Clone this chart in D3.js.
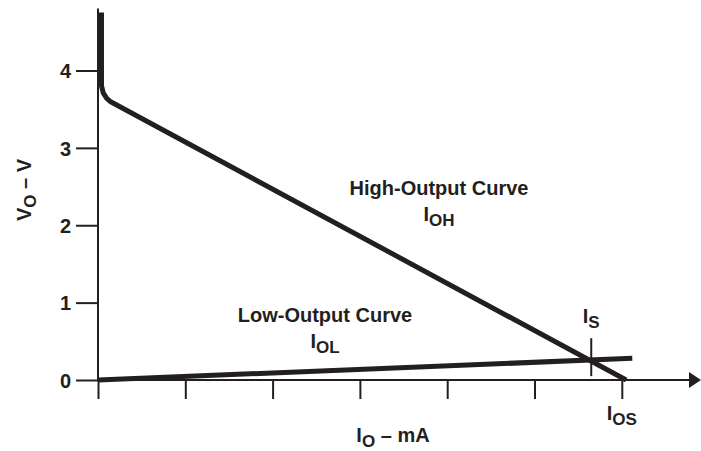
<!DOCTYPE html>
<html>
<head>
<meta charset="utf-8">
<script src="https://cdn.jsdelivr.net/npm/d3@7"></script>
<style>
  body { margin: 0; background: #fff; }
  text { font-family: "Liberation Sans", Arial, sans-serif; font-weight: bold; fill: #231f20; }
</style>
</head>
<body>
<div id="chart-area"></div>
<script>
// values (x in tick units, y in volts)
var xTicks = [0, 1, 2, 3, 4, 5, 6];
var yTicks = [0, 1, 2, 3, 4];
var highI = [0.04, 0.04, 0.06, 0.10, 0.14, 6.05];
var highV = [4.75, 3.80, 3.71, 3.64, 3.60, 0];
var lowI = [0, 6.12];
var lowV = [0, 0.28];
var iS = 5.65;
var iOS = 6;

var ink = "#231f20";

var svg = d3.select("#chart-area").append("svg")
    .attr("width", 701)
    .attr("height", 451);

var x = d3.scaleLinear()
    .domain([0, 6])
    .range([98, 621.8]);

var y = d3.scaleLinear()
    .domain([0, 4])
    .range([380, 70.5]);

// y axis
var yAxis = svg.append("g")
    .attr("transform", "translate(" + x(0) + ",0)")
    .call(d3.axisLeft(y).tickValues(yTicks).tickSize(22).tickPadding(5).tickFormat(d3.format("d")));
yAxis.select(".domain").remove();
yAxis.selectAll(".tick line").attr("stroke", ink).attr("stroke-width", 2);
yAxis.selectAll(".tick text")
    .attr("font-size", 20)
    .attr("font-family", "Liberation Sans, Arial, sans-serif")
    .attr("font-weight", "bold")
    .attr("fill", ink)
    .attr("dy", "0.36em");

svg.append("line")
    .attr("x1", x(0)).attr("x2", x(0))
    .attr("y1", y(4.8)).attr("y2", y(0))
    .attr("stroke", ink).attr("stroke-width", 2);

// x axis
var xAxis = svg.append("g")
    .attr("transform", "translate(0," + y(0) + ")")
    .call(d3.axisBottom(x).tickValues(xTicks).tickSize(19).tickFormat(""));
xAxis.select(".domain").remove();
xAxis.selectAll(".tick line").attr("stroke", ink).attr("stroke-width", 2);

svg.append("line")
    .attr("x1", x(0)).attr("x2", 692)
    .attr("y1", y(0)).attr("y2", y(0))
    .attr("stroke", ink).attr("stroke-width", 2);

svg.append("path")
    .attr("d", "M689," + (y(0) - 8) + "L701," + y(0) + "L689," + (y(0) + 8) + "Z")
    .attr("fill", ink);

// curves
var line = d3.line()
    .x((d) => x(d[0]))
    .y((d) => y(d[1]))
    .curve(d3.curveLinear);

svg.append("path")
    .datum(highI.map((d, i) => [d, highV[i]]))
    .attr("d", line)
    .attr("fill", "none")
    .attr("stroke", ink)
    .attr("stroke-width", 5)
    .attr("stroke-linejoin", "round");

svg.append("path")
    .datum(lowI.map((d, i) => [d, lowV[i]]))
    .attr("d", line)
    .attr("fill", "none")
    .attr("stroke", ink)
    .attr("stroke-width", 5);

// I_S marker
svg.append("line")
    .attr("x1", x(iS)).attr("x2", x(iS))
    .attr("y1", y(0.54)).attr("y2", y(0.05))
    .attr("stroke", ink).attr("stroke-width", 2);

// labels
function subLabel(g, main, sub, rest, shift) {
    shift = shift || 5;
    var t = g.append("text").attr("font-size", 20);
    t.append("tspan").text(main);
    t.append("tspan").attr("font-size", 17).attr("dy", shift).text(sub);
    if (rest) t.append("tspan").attr("dy", -shift).text(rest);
    return t;
}

svg.append("text")
    .attr("x", 439).attr("y", 195)
    .attr("text-anchor", "middle").attr("font-size", 20)
    .text("High-Output Curve");
subLabel(svg, "I", "OH").attr("x", 439).attr("y", 221).attr("text-anchor", "middle");

svg.append("text")
    .attr("x", 325).attr("y", 322)
    .attr("text-anchor", "middle").attr("font-size", 20)
    .text("Low-Output Curve");
subLabel(svg, "I", "OL").attr("x", 325).attr("y", 348).attr("text-anchor", "middle");

subLabel(svg, "I", "S").attr("x", x(iS)).attr("y", 323).attr("text-anchor", "middle");
subLabel(svg, "I", "OS").attr("x", x(iOS)).attr("y", 420).attr("text-anchor", "middle");

subLabel(svg, "I", "O", " – mA", 4.5).attr("x", 393).attr("y", 442).attr("text-anchor", "middle");

subLabel(svg, "V", "O", " – V")
    .attr("text-anchor", "middle")
    .attr("transform", "translate(31,190) rotate(-90)");
</script>
</body>
</html>
